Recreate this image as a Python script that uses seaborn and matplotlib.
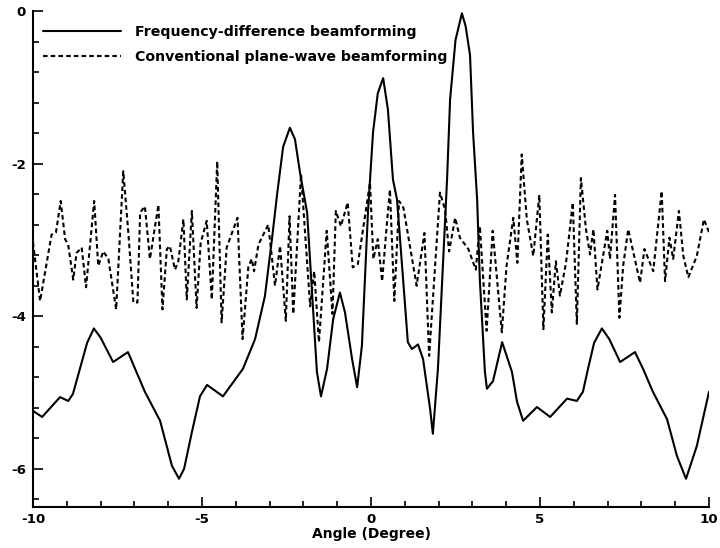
import numpy as np
import pandas as pd
import matplotlib
matplotlib.use("Agg")
import matplotlib.pyplot as plt
from matplotlib.ticker import MultipleLocator
import seaborn as sns

# Frequency-difference beamforming (solid)
fd_angle = [-10.0, -9.73, -9.2, -8.96, -8.82, -8.4, -8.2, -8.0, -7.63, -7.19, -6.69, -6.24,
            -5.89, -5.68, -5.53, -5.3, -5.06, -4.85, -4.38, -3.79, -3.43, -3.14, -2.93,
            -2.78, -2.6, -2.4, -2.25, -2.1, -1.89, -1.75, -1.6, -1.48, -1.3, -1.12, -0.92,
            -0.77, -0.56, -0.41, -0.27, -0.09, 0.06, 0.2, 0.36, 0.5, 0.65, 0.77, 0.95,
            1.09, 1.21, 1.39, 1.54, 1.75, 1.83, 1.98, 2.25, 2.34, 2.5, 2.69, 2.8, 2.93,
            3.02, 3.14, 3.22, 3.37, 3.43, 3.61, 3.88, 4.17, 4.32, 4.5, 4.91, 5.3, 5.8,
            6.09, 6.27, 6.42, 6.6, 6.83, 7.05, 7.37, 7.81, 8.05, 8.34, 8.76, 9.05, 9.32,
            9.64, 10.0]
fd_value = [-5.24, -5.32, -5.06, -5.11, -5.02, -4.35, -4.16, -4.28, -4.6, -4.47, -4.99,
            -5.37, -5.96, -6.13, -6.0, -5.52, -5.05, -4.9, -5.05, -4.69, -4.3, -3.74,
            -2.99, -2.41, -1.78, -1.53, -1.68, -2.12, -2.64, -3.65, -4.73, -5.05, -4.69,
            -4.04, -3.69, -3.95, -4.56, -4.93, -4.39, -2.64, -1.59, -1.08, -0.88, -1.29,
            -2.21, -2.47, -3.52, -4.34, -4.43, -4.37, -4.56, -5.22, -5.54, -4.69, -2.21,
            -1.16, -0.38, -0.03, -0.2, -0.58, -1.59, -2.47, -3.52, -4.73, -4.95, -4.85,
            -4.34, -4.73, -5.12, -5.37, -5.19, -5.32, -5.08, -5.11, -4.99, -4.69, -4.35,
            -4.16, -4.3, -4.6, -4.47, -4.69, -4.99, -5.35, -5.83, -6.13, -5.7, -4.99]

# Conventional plane-wave beamforming (dotted)
cpw_angle = [-10.0, -9.79, -9.45, -9.32, -9.18, -9.05, -8.96, -8.81, -8.71, -8.56, -8.43,
             -8.19, -8.07, -7.92, -7.77, -7.54, -7.33, -7.18, -7.03, -6.91, -6.83, -6.69,
             -6.54, -6.29, -6.17, -6.04, -5.95, -5.8, -5.7, -5.55, -5.45, -5.3, -5.16,
             -5.04, -4.86, -4.71, -4.55, -4.42, -4.27, -3.95, -3.8, -3.63, -3.53, -3.46,
             -3.33, -3.04, -2.84, -2.69, -2.52, -2.41, -2.3, -2.07, -1.8, -1.68, -1.54,
             -1.31, -1.14, -1.04, -0.89, -0.69, -0.54, -0.39, -0.03, 0.07, 0.2, 0.33,
             0.46, 0.56, 0.69, 0.83, 0.96, 1.35, 1.58, 1.72, 2.04, 2.19, 2.31, 2.49,
             2.63, 2.88, 3.1, 3.22, 3.42, 3.6, 3.87, 4.01, 4.21, 4.33, 4.46, 4.61, 4.8,
             4.98, 5.1, 5.23, 5.35, 5.47, 5.59, 5.77, 5.97, 6.09, 6.21, 6.36, 6.48, 6.58,
             6.7, 6.99, 7.07, 7.22, 7.35, 7.46, 7.61, 7.96, 8.09, 8.35, 8.6, 8.7, 8.83,
             8.94, 9.11, 9.24, 9.39, 9.64, 9.85, 10.0]
cpw_value = [-3.03, -3.8, -2.93, -2.9, -2.49, -2.99, -3.06, -3.52, -3.17, -3.1, -3.62,
             -2.49, -3.34, -3.15, -3.25, -3.91, -2.1, -2.9, -3.82, -3.82, -2.64, -2.56,
             -3.25, -2.54, -3.91, -3.12, -3.08, -3.39, -3.28, -2.73, -3.78, -2.62, -3.89,
             -3.04, -2.75, -3.78, -1.97, -4.08, -3.1, -2.71, -4.3, -3.36, -3.25, -3.41,
             -3.06, -2.8, -3.6, -3.08, -4.06, -2.69, -3.97, -2.14, -3.87, -3.41, -4.34,
             -2.88, -3.97, -2.62, -2.82, -2.51, -3.36, -3.32, -2.25, -3.25, -2.99, -3.54,
             -2.84, -2.34, -3.8, -2.49, -2.58, -3.6, -2.91, -4.52, -2.38, -2.6, -3.15,
             -2.71, -2.97, -3.12, -3.39, -2.82, -4.19, -2.88, -4.21, -3.34, -2.71, -3.3,
             -1.88, -2.73, -3.21, -2.41, -4.17, -2.93, -3.95, -3.28, -3.73, -3.3, -2.51,
             -4.1, -2.19, -2.86, -3.19, -2.86, -3.65, -2.88, -3.25, -2.41, -4.02, -3.34,
             -2.86, -3.56, -3.12, -3.41, -2.36, -3.54, -2.97, -3.25, -2.62, -3.21, -3.49,
             -3.21, -2.73, -2.9]

labels = ["Frequency-difference beamforming", "Conventional plane-wave beamforming"]

df = pd.concat([
    pd.DataFrame({"Angle": fd_angle, "Value": fd_value, "Method": labels[0]}),
    pd.DataFrame({"Angle": cpw_angle, "Value": cpw_value, "Method": labels[1]}),
], ignore_index=True)

sns.set_style("ticks")
plt.rcParams["font.family"] = ["DejaVu Sans"]
plt.rcParams["text.color"] = "black"
plt.rcParams["axes.labelcolor"] = "black"
plt.rcParams["xtick.color"] = "black"
plt.rcParams["ytick.color"] = "black"

fig = plt.figure(figsize=(7.2, 5.48), dpi=100)
ax = fig.add_axes([33 / 720, 41 / 548, 676 / 720, 496 / 548])

sns.lineplot(data=df, x="Angle", y="Value", hue="Method", style="Method",
             palette={labels[0]: "black", labels[1]: "black"},
             dashes={labels[0]: "", labels[1]: (2.2, 1.5)},
             sort=False, estimator=None, linewidth=1.5, ax=ax, legend=True)

ax.set_xlim(-10, 10)
ax.set_ylim(-6.5, 0)
ax.xaxis.set_minor_locator(MultipleLocator(1))
ax.yaxis.set_minor_locator(MultipleLocator(0.4))
ax.set_xticks([-10, -5, 0, 5, 10])
ax.set_xticklabels(["-10", "-5", "0", "5", "10"], fontweight="bold")
ax.set_yticks([0, -2, -4, -6])
ax.set_yticklabels(["0", "-2", "-4", "-6"], fontweight="bold")
ax.tick_params(which="both", direction="in", width=1.2, colors="black",
               labelcolor="black", labelsize=9.6)
ax.tick_params(which="major", length=7)
ax.tick_params(which="minor", length=4.5)
ax.tick_params(axis="x", pad=4)
ax.tick_params(axis="y", pad=5)

for s in ["top", "right"]:
    ax.spines[s].set_visible(False)
for s in ["left", "bottom"]:
    ax.spines[s].set_linewidth(1.5)
    ax.spines[s].set_color("black")

ax.set_xlabel("Angle (Degree)", fontsize=10, fontweight="bold", labelpad=1,
              color="black")
ax.set_ylabel("")

leg = ax.legend(loc="upper left", frameon=False, handlelength=5.5,
                fontsize=10.2, bbox_to_anchor=(0.0, 0.991), borderaxespad=0.3,
                handletextpad=1.0, labelspacing=0.72)
for t in leg.get_texts():
    t.set_fontweight("bold")
    t.set_color("black")

fig.savefig("out.png", dpi=100)
